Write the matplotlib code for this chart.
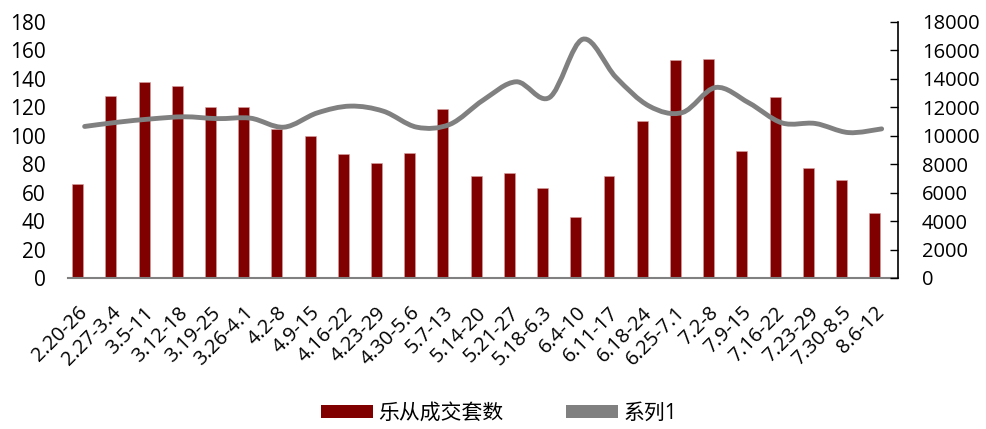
import numpy as np
import matplotlib.pyplot as plt
from matplotlib.path import Path
from matplotlib.patches import PathPatch, Patch

plt.rcParams['font.family'] = ['Open Sans', 'Noto Sans CJK SC', 'DejaVu Sans']

# 周区间
weeks = ['2.20-26', '2.27-3.4', '3.5-11', '3.12-18', '3.19-25', '3.26-4.1', '4.2-8',
         '4.9-15', '4.16-22', '4.23-29', '4.30-5.6', '5.7-13', '5.14-20', '5.21-27',
         '5.18-6.3', '6.4-10', '6.11-17', '6.18-24', '6.25-7.1', '7.2-8', '7.9-15',
         '7.16-22', '7.23-29', '7.30-8.5', '8.6-12']
# 乐从成交套数 (左轴)
deals = [66, 128, 138, 135, 120, 120, 105, 100, 87, 81, 88, 119, 72, 74,
         63, 43, 72, 110, 153, 154, 89, 127, 77, 69, 46]
# 系列1 (右轴)
series1 = [10650, 10950, 11180, 11330, 11200, 11230, 10600, 11600, 12080, 11720,
           10600, 10800, 12500, 13790, 12690, 16780, 14100, 12080, 11630, 13390,
           12310, 10900, 10860, 10220, 10480]

bar_color = '#800000'
line_color = '#808080'


def smooth_path(x, y, t=1 / 6):
    # Catmull-Rom 转 Bezier, 类似 Excel 平滑线
    x = np.asarray(x, float)
    y = np.asarray(y, float)
    px = np.concatenate([[x[0]], x, [x[-1]]])
    py = np.concatenate([[y[0]], y, [y[-1]]])
    verts = [(x[0], y[0])]
    codes = [Path.MOVETO]
    for i in range(1, len(px) - 2):
        c1 = (px[i] + (px[i + 1] - px[i - 1]) * t, py[i] + (py[i + 1] - py[i - 1]) * t)
        c2 = (px[i + 1] - (px[i + 2] - px[i]) * t, py[i + 1] - (py[i + 2] - py[i]) * t)
        verts += [c1, c2, (px[i + 1], py[i + 1])]
        codes += [Path.CURVE4] * 3
    return Path(verts, codes)


fig = plt.figure(figsize=(9.86, 4.29), dpi=100)
ax = fig.add_axes([0.069, 0.352, 0.842, 0.597])
x = np.arange(len(weeks))

ax.bar(x - 0.21, deals, width=0.33, color=bar_color, edgecolor='#d9a0a0',
       linewidth=0.4, zorder=2)
ax.set_xlim(-0.5, len(weeks) - 0.5)
ax.set_ylim(0, 180)
ax.set_yticks(np.arange(0, 181, 20))
ax.tick_params(axis='y', length=0, labelsize=15, pad=16)
ax.set_xticks(x)
ax.set_xticklabels(weeks, rotation=45, ha='right', va='center',
                   rotation_mode='anchor', fontsize=14.5)
ax.tick_params(axis='x', length=0, pad=23)
for s in ['top', 'left', 'right']:
    ax.spines[s].set_visible(False)
ax.spines['bottom'].set_color('#808080')
ax.spines['bottom'].set_linewidth(1.5)

ax2 = ax.twinx()
ax2.set_ylim(0, 18000)
ax2.set_yticks(np.arange(0, 18001, 2000))
ax2.tick_params(axis='y', direction='in', length=6, width=1, labelsize=14.5, pad=17)
for s in ['top', 'left', 'bottom']:
    ax2.spines[s].set_visible(False)
ax2.spines['right'].set_color('black')
ax2.spines['right'].set_linewidth(1.2)
ax2.add_patch(PathPatch(smooth_path(x, series1), facecolor='none', edgecolor=line_color,
                        linewidth=3.5, capstyle='round', zorder=3))

handles = [Patch(facecolor=bar_color), Patch(facecolor=line_color)]
fig.legend(handles, ['乐从成交套数', '系列1'], loc='center', bbox_to_anchor=(0.506, 0.037),
           ncol=2, frameon=False, fontsize=15, handlelength=2.5, handleheight=0.6,
           columnspacing=3.0, handletextpad=0.25)

fig.savefig('out.png', dpi=100)
